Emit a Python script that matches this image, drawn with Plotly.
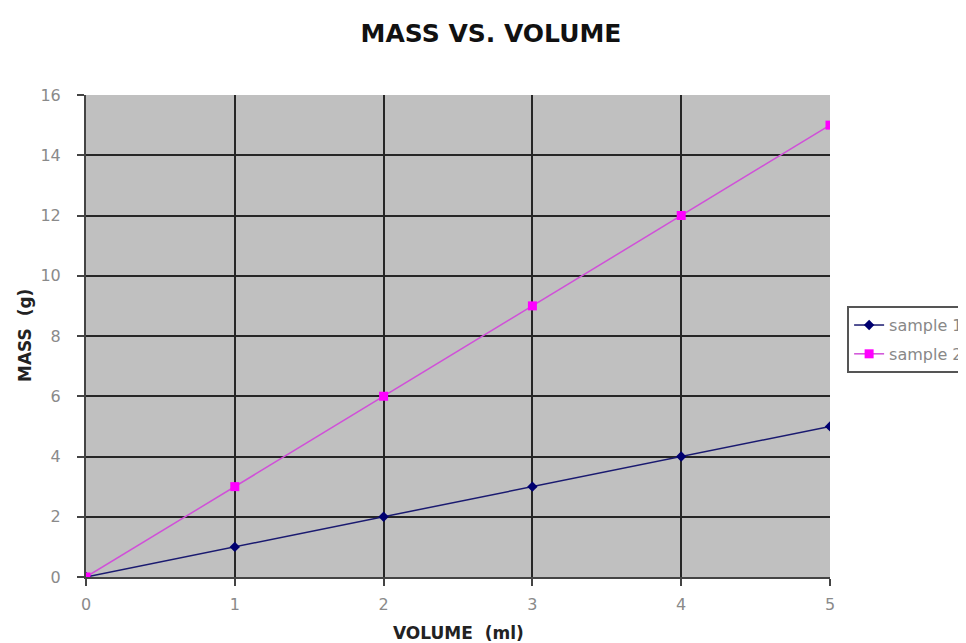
import plotly.graph_objects as go

volume = [0, 1, 2, 3, 4, 5]
sample1 = [0, 1, 2, 3, 4, 5]
sample2 = [0, 3, 6, 9, 12, 15]
series_names = ["sample 1", "sample 2"]
x_ticks = [0, 1, 2, 3, 4, 5]
y_ticks = [0, 2, 4, 6, 8, 10, 12, 14, 16]

FONT = "DejaVu Sans, Liberation Sans, Arial"

fig = go.Figure()
fig.add_trace(go.Scatter(
    x=volume, y=sample1, name=series_names[0], mode="lines+markers", legendgroup="a",
    line=dict(color="#1a1a70", width=1.5),
    marker=dict(symbol="diamond", size=8, color="#000070"),
))
fig.add_trace(go.Scatter(
    x=volume, y=sample2, name=series_names[1], mode="lines+markers", legendgroup="b",
    line=dict(color="#d050d8", width=1.5),
    marker=dict(symbol="square", size=9, color="#ff00ff"),
))

axis_common = dict(
    showgrid=True, gridcolor="#262626", gridwidth=2,
    zeroline=False, showline=True, linecolor="#444", linewidth=2,
    ticks="outside", ticklen=7, tickcolor="#444", tickwidth=2,
    tickfont=dict(family=FONT, size=16, color="#8a8a8a"),
)

fig.update_layout(
    width=966, height=643,
    paper_bgcolor="white", plot_bgcolor="#c0c0c0",
    margin=dict(l=78, r=144, t=87, b=74, autoexpand=False),
    title=dict(text="<b>MASS VS. VOLUME</b>", x=0.5, xanchor="center", y=1 - 25 / 643, yanchor="middle",
               font=dict(family=FONT, size=25, color="#111")),
    font=dict(family=FONT, size=14, color="#888"),
    xaxis=dict(range=[0, 5], tickvals=x_ticks, ticklabelstandoff=5, **axis_common),
    yaxis=dict(range=[0, 16], tickvals=y_ticks, ticklabelstandoff=13, **axis_common),
    legend=dict(x=1.023, xanchor="left", y=0.562, yanchor="top",
                bgcolor="white", bordercolor="#555", borderwidth=2,
                font=dict(family=FONT, size=16, color="#888"),
                itemwidth=30, tracegroupgap=5, traceorder="grouped"),
    showlegend=True,
    annotations=[
        dict(text="<b>VOLUME  (ml)</b>", xref="paper", yref="paper", x=0.5, y=0,
             xanchor="center", yanchor="middle", yshift=-56, showarrow=False,
             font=dict(family=FONT, size=17, color="#222")),
        dict(text="<b>MASS  (g)</b>", xref="paper", yref="paper", x=0, y=0.5,
             xanchor="center", yanchor="middle", xshift=-61, textangle=-90, showarrow=False,
             font=dict(family=FONT, size=17, color="#222")),
    ],
)

fig.write_html("out.html")
